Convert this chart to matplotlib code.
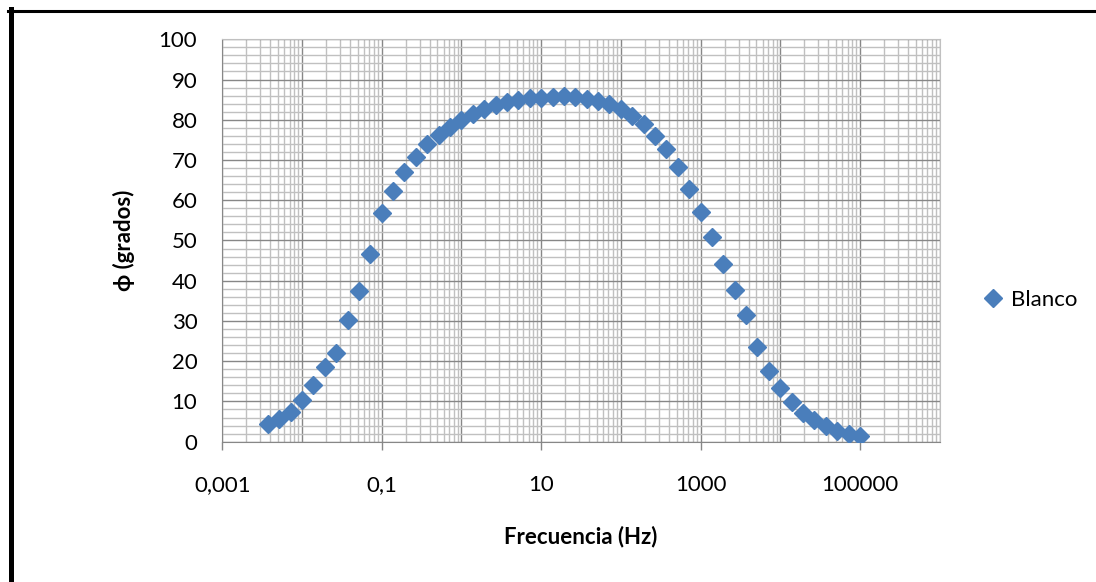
import numpy as np
import matplotlib
matplotlib.use("Agg")
import matplotlib.pyplot as plt
from matplotlib.lines import Line2D
from matplotlib.ticker import FixedLocator, NullFormatter, MultipleLocator

plt.rcParams['font.family'] = ['Lato', 'DejaVu Sans']

# Frequency (Hz), 7 points per decade
freq = [0.003728, 0.005179, 0.007197,
        0.01, 0.01389, 0.01931, 0.02683, 0.03728, 0.05179, 0.07197,
        0.1, 0.1389, 0.1931, 0.2683, 0.3728, 0.5179, 0.7197,
        1, 1.389, 1.931, 2.683, 3.728, 5.179, 7.197,
        10, 13.89, 19.31, 26.83, 37.28, 51.79, 71.97,
        100, 138.9, 193.1, 268.3, 372.8, 517.9, 719.7,
        1000, 1389, 1931, 2683, 3728, 5179, 7197,
        10000, 13895, 19307, 26827, 37276, 51795, 71969,
        100000]

# Phase angle (degrees)
phase = [4.4, 5.6, 7.4,
         10.4, 14.2, 18.5, 22.0, 30.2, 37.4, 46.6,
         56.8, 62.4, 67.1, 70.8, 74.0, 76.2, 78.1,
         79.9, 81.4, 82.6, 83.6, 84.3, 84.9, 85.3,
         85.4, 85.7, 85.9, 85.6, 85.1, 84.7, 83.9,
         82.6, 80.9, 78.9, 76.0, 72.8, 68.3, 62.9,
         57.0, 50.8, 44.1, 37.7, 31.4, 23.6, 17.6,
         13.3, 9.9, 7.2, 5.4, 3.9, 2.7, 1.9,
         1.4]

x_ticks = [1e-3, 1e-2, 1e-1, 1, 10, 100, 1e3, 1e4, 1e5, 1e6]
x_labels = ['0,001', '', '0,1', '', '10', '', '1000', '', '100000', '']

fig = plt.figure(figsize=(10.96, 5.82), dpi=100)
ax = fig.add_axes([0.2028, 0.2411, 0.6546, 0.6914])

ax.plot(freq, phase, linestyle='none', marker='D', markersize=8.8,
        color='#4a7ebb', label='Blanco', zorder=3)

ax.set_xscale('log')
ax.set_xlim(1e-3, 1e6)
ax.set_ylim(0, 100)

ax.xaxis.set_major_locator(FixedLocator(x_ticks))
ax.set_xticklabels(x_labels)
minor_x = [m * d for d in x_ticks[:-1] for m in range(2, 10)]
ax.xaxis.set_minor_locator(FixedLocator(minor_x))
ax.xaxis.set_minor_formatter(NullFormatter())
ax.yaxis.set_major_locator(MultipleLocator(10))
ax.yaxis.set_minor_locator(MultipleLocator(2))

ax.grid(True, which='major', color='#878787', linewidth=1.0)
ax.grid(True, which='minor', color='#c0c0c0', linewidth=1.0)
ax.set_axisbelow(True)

ax.tick_params(axis='x', which='major', length=6, width=1, color='#878787',
               pad=18, labelsize=16)
ax.tick_params(axis='x', which='minor', length=0)
ax.tick_params(axis='y', which='both', length=0, pad=18, labelsize=16)
for tick, lab in zip(ax.xaxis.get_major_ticks(), x_labels):
    if lab == '':
        tick.tick1line.set_visible(False)

for side in ['left', 'bottom']:
    ax.spines[side].set_color('#878787')
for side in ['top', 'right']:
    ax.spines[side].set_color('#c0c0c0')

ax.set_xlabel('Frecuencia (Hz)', fontsize=16, fontweight='bold', labelpad=22)
ax.set_ylabel('\u03d5 (grados)', fontsize=16, fontweight='bold', labelpad=17)

fig.legend(loc='center left', bbox_to_anchor=(0.886, 0.485), frameon=False,
           fontsize=16, handlelength=1.0, handletextpad=0.3, borderpad=0)

# chart border (top and left edges)
fig.add_artist(Line2D([8 / 1096, 1], [1 - 10.5 / 582, 1 - 10.5 / 582],
                      transform=fig.transFigure, color='black', linewidth=2.2))
fig.add_artist(Line2D([10.5 / 1096, 10.5 / 1096], [0, 1 - 9 / 582],
                      transform=fig.transFigure, color='black', linewidth=3.6))

fig.savefig('out.png', dpi=100, facecolor='white')
